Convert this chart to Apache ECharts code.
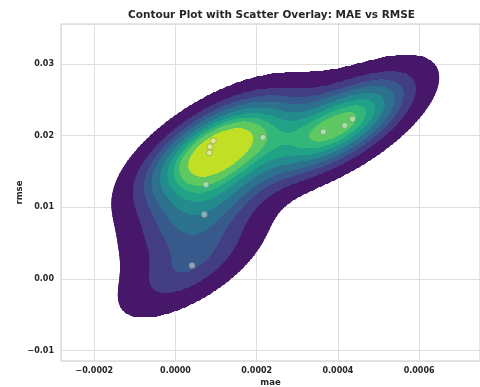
<!DOCTYPE html>
<html>
<head>
<meta charset="utf-8">
<script src="https://cdn.jsdelivr.net/npm/echarts@6/dist/echarts.min.js"></script>
<style>
  html, body { margin: 0; padding: 0; background: #ffffff; }
  #chart { width: 480px; height: 387px; }
</style>
</head>
<body>
<div id="chart"></div>
<script>
// Observations: mean absolute error vs root mean squared error
const mae  = [0.0000931, 0.0000850, 0.0000833, 0.0002155, 0.0000751, 0.0000709, 0.0000406, 0.000364, 0.000417, 0.000436];
const rmse = [0.01927,   0.01844,   0.01760,   0.01975,   0.01313,   0.00899,   0.00187,   0.02053,  0.02142,  0.02230];

// Axis ticks
const maeTicks  = [-0.0002, 0.0000, 0.0002, 0.0004, 0.0006];
const rmseTicks = [-0.01, 0.00, 0.01, 0.02, 0.03];

// KDE settings (iso-proportion levels, Scott bandwidth)
const LEVELS = 10, THRESH = 0.05, CUT = 3, GRID = 200;

// viridis colour map anchors
const viridisStops = ['#440154','#471365','#482475','#463480','#414487','#3b528b','#355f8d','#2f6c8e','#2a788e','#25848e','#21918c','#1e9c89','#22a884','#2fb47c','#44bf70','#5ec962','#7ad151','#9bd93c','#bddf26','#dfe318','#fde725'];

function hexToRgb(h) { return [1,3,5].map(i => parseInt(h.substr(i, 2), 16)); }
function viridis(t) {
  t = Math.max(0, Math.min(1, t));
  const s = t * (viridisStops.length - 1);
  const i = Math.min(Math.floor(s), viridisStops.length - 2);
  const f = s - i;
  const a = hexToRgb(viridisStops[i]), b = hexToRgb(viridisStops[i + 1]);
  const c = a.map((v, k) => Math.round(v + (b[k] - v) * f));
  return 'rgb(' + c.join(',') + ')';
}

// Gaussian kernel density estimate with full covariance
const n = mae.length;
const mean = a => a.reduce((s, v) => s + v, 0) / a.length;
const mx = mean(mae), my = mean(rmse);
let cxx = 0, cyy = 0, cxy = 0;
for (let i = 0; i < n; i++) {
  const dx = mae[i] - mx, dy = rmse[i] - my;
  cxx += dx * dx; cyy += dy * dy; cxy += dx * dy;
}
cxx /= (n - 1); cyy /= (n - 1); cxy /= (n - 1);
const fac = Math.pow(n, -1 / 6);
const kxx = cxx * fac * fac, kyy = cyy * fac * fac, kxy = cxy * fac * fac;
const det = kxx * kyy - kxy * kxy;
const ixx = kyy / det, iyy = kxx / det, ixy = -kxy / det;
const normC = 1 / (n * 2 * Math.PI * Math.sqrt(det));
function density(x, y) {
  let s = 0;
  for (let i = 0; i < n; i++) {
    const dx = x - mae[i], dy = y - rmse[i];
    s += Math.exp(-0.5 * (dx * dx * ixx + 2 * dx * dy * ixy + dy * dy * iyy));
  }
  return s * normC;
}

// Support of the estimate
const bwx = Math.sqrt(kxx), bwy = Math.sqrt(kyy);
const sx0 = Math.min(...mae) - CUT * bwx, sx1 = Math.max(...mae) + CUT * bwx;
const sy0 = Math.min(...rmse) - CUT * bwy, sy1 = Math.max(...rmse) + CUT * bwy;

// Density thresholds enclosing given proportions of the mass
const gridVals = [];
for (let j = 0; j < GRID; j++) {
  const y = sy0 + (sy1 - sy0) * j / (GRID - 1);
  for (let i = 0; i < GRID; i++) {
    const x = sx0 + (sx1 - sx0) * i / (GRID - 1);
    gridVals.push(density(x, y));
  }
}
const sorted = gridVals.slice().sort((a, b) => b - a);
const total = sorted.reduce((s, v) => s + v, 0);
const cum = []; let acc = 0;
for (const v of sorted) { acc += v; cum.push(acc / total); }
function searchLeft(arr, t) {
  let lo = 0, hi = arr.length;
  while (lo < hi) { const m = (lo + hi) >> 1; if (arr[m] < t) lo = m + 1; else hi = m; }
  return lo;
}
const levels = [];
for (let k = 0; k < LEVELS; k++) {
  const p = THRESH + (1 - THRESH) * k / (LEVELS - 1);
  const idx = Math.min(searchLeft(cum, 1 - p), sorted.length - 1);
  levels.push(sorted[idx]);
}
const bandColors = [];
for (let k = 0; k < LEVELS - 1; k++) {
  const mid = (levels[k] + levels[k + 1]) / 2;
  bandColors.push(viridis((mid - levels[0]) / (levels[LEVELS - 1] - levels[0])));
}

// Filled bands as horizontal runs, lowest band first
const ROWS = 440, COLS = 700;
const dyRow = (sy1 - sy0) / ROWS;
const dxCol = (sx1 - sx0) / (COLS - 1);
const runsByBand = bandColors.map(() => []);
for (let r = 0; r < ROWS; r++) {
  const y = sy0 + (r + 0.5) * dyRow;
  const d = [];
  for (let c = 0; c < COLS; c++) d.push(density(sx0 + c * dxCol, y));
  for (let k = 0; k < LEVELS - 1; k++) {
    const L = levels[k];
    let start = null;
    for (let c = 0; c < COLS; c++) {
      const inside = d[c] >= L;
      if (inside && start === null) {
        start = c === 0 ? sx0 : sx0 + (c - 1 + (L - d[c - 1]) / (d[c] - d[c - 1])) * dxCol;
      } else if (!inside && start !== null) {
        const end = sx0 + (c - 1 + (d[c - 1] - L) / (d[c - 1] - d[c])) * dxCol;
        runsByBand[k].push([start, end, y, k]);
        start = null;
      }
    }
    if (start !== null) runsByBand[k].push([start, sx1, y, k]);
  }
}
const bandRuns = [].concat(...runsByBand);

const FONT = 'DejaVu Sans';
const TEXT = '#262626';
const isTick = (v, ticks) => ticks.some(t => Math.abs(v - t) < 1e-9);
const fmt = (v, dp) => v.toFixed(dp).replace('-', '\u2212');

const chart = echarts.init(document.getElementById('chart'), null, { renderer: 'canvas' });
chart.setOption({
  animation: false,
  backgroundColor: '#ffffff',
  title: {
    text: 'Contour Plot with Scatter Overlay: MAE vs RMSE',
    left: 128, top: 10, padding: 0,
    textStyle: { fontFamily: FONT, fontWeight: 'bold', fontSize: 10.5, color: TEXT }
  },
  grid: {
    left: 61, right: 0, top: 24, bottom: 26,
    outerBoundsMode: 'none',
    show: true, borderColor: '#cccccc', borderWidth: 1, backgroundColor: 'transparent'
  },
  xAxis: {
    type: 'value', min: -0.000282, max: 0.00075, splitNumber: 5,
    name: 'mae', nameLocation: 'middle', nameGap: 17, nameMoveOverlap: false,
    nameTextStyle: { fontFamily: FONT, fontWeight: 'bold', fontSize: 8.5, color: TEXT },
    axisLine: { show: false }, axisTick: { show: false },
    splitLine: { show: true, lineStyle: { color: '#dedede', width: 1 } },
    axisLabel: {
      fontFamily: FONT, fontWeight: 'bold', fontSize: 8, color: TEXT, margin: 6,
      formatter: v => isTick(v, maeTicks) ? fmt(v, 4) : ''
    }
  },
  yAxis: {
    type: 'value', min: -0.01145, max: 0.03557, splitNumber: 5,
    name: 'rmse', nameLocation: 'middle', nameGap: 37, nameMoveOverlap: false,
    nameTextStyle: { fontFamily: FONT, fontWeight: 'bold', fontSize: 8.5, color: TEXT },
    axisLine: { show: false }, axisTick: { show: false },
    splitLine: { show: true, lineStyle: { color: '#dedede', width: 1 } },
    axisLabel: {
      fontFamily: FONT, fontWeight: 'bold', fontSize: 8, color: TEXT, margin: 7,
      formatter: v => isTick(v, rmseTicks) ? fmt(v, 2) : ''
    }
  },
  series: [
    {
      type: 'custom',
      name: 'density',
      progressive: 0,
      silent: true,
      z: 2,
      data: bandRuns,
      encode: { x: [0, 1], y: 2 },
      renderItem: (params, api) => {
        const p0 = api.coord([api.value(0), api.value(2) + dyRow / 2]);
        const p1 = api.coord([api.value(1), api.value(2) - dyRow / 2]);
        // snap rows to whole pixels so neighbouring rows leave no gaps
        const top = Math.floor(p0[1]), bottom = Math.ceil(p1[1]);
        return {
          type: 'rect',
          shape: { x: p0[0], y: top, width: p1[0] - p0[0], height: bottom - top },
          style: { fill: bandColors[api.value(3)] }
        };
      }
    },
    {
      type: 'scatter',
      name: 'points',
      z: 5,
      symbol: 'circle',
      symbolSize: 6,
      data: mae.map((v, i) => [v, rmse[i]]),
      itemStyle: { color: 'rgba(255,255,255,0.55)', borderColor: 'rgba(120,120,120,0.75)', borderWidth: 0.8 }
    }
  ]
});
</script>
</body>
</html>
